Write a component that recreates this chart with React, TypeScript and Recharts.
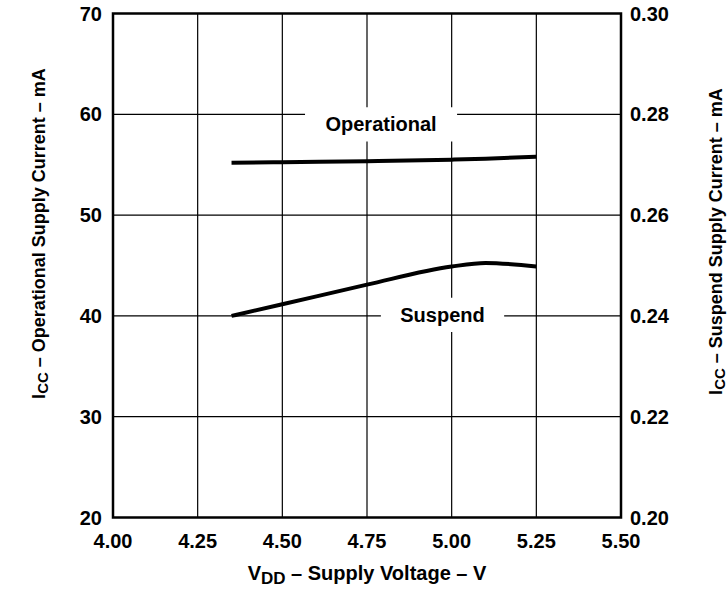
import React from "react";
import {
  LineChart,
  Line,
  XAxis,
  YAxis,
  CartesianGrid,
  ReferenceArea,
} from "recharts";

const voltage = [4.35, 4.5, 4.75, 5.0, 5.1, 5.25];
const operational = [55.2, 55.25, 55.35, 55.5, 55.6, 55.8];
const suspend = [0.24, 0.2423, 0.2462, 0.2498, 0.2505, 0.2498];

const xTicks = [4.0, 4.25, 4.5, 4.75, 5.0, 5.25, 5.5];
const leftTicks = [20, 30, 40, 50, 60, 70];
const rightTicks = [0.2, 0.22, 0.24, 0.26, 0.28, 0.3];

const data = voltage.map((v, i) => ({
  v,
  op: operational[i],
  su: suspend[i],
}));

const FONT = "'Liberation Sans', Arial, Helvetica, sans-serif";
const tickStyle = {
  fill: "#000",
  fontSize: 20,
  fontWeight: 700,
  fontFamily: FONT,
};

const LeftTitle = (props: any) => {
  const vb = props.viewBox || {};
  const cx = vb.x + 44.5;
  const cy = vb.y + vb.height / 2 - 32;
  return (
    <text
      x={cx}
      y={cy}
      transform={`rotate(-90, ${cx}, ${cy})`}
      textAnchor="middle"
      fontFamily={FONT}
      fontWeight={700}
      fontSize={18}
      fill="#000"
    >
      <tspan>I</tspan>
      <tspan fontSize={15} dy={3}>CC</tspan>
      <tspan dy={-3}> – Operational Supply Current – mA</tspan>
    </text>
  );
};

const RightTitle = (props: any) => {
  const vb = props.viewBox || {};
  const cx = vb.x + 100.5;
  const cy = vb.y + vb.height / 2 - 24;
  return (
    <text
      x={cx}
      y={cy}
      transform={`rotate(-90, ${cx}, ${cy})`}
      textAnchor="middle"
      fontFamily={FONT}
      fontWeight={700}
      fontSize={18}
      fill="#000"
    >
      <tspan>I</tspan>
      <tspan fontSize={15} dy={3}>CC</tspan>
      <tspan dy={-3}> – Suspend Supply Current – mA</tspan>
    </text>
  );
};

const XTitle = (props: any) => {
  const vb = props.viewBox || {};
  const cx = vb.x + vb.width / 2;
  const cy = vb.y + 62.5;
  return (
    <text
      x={cx}
      y={cy}
      textAnchor="middle"
      fontFamily={FONT}
      fontWeight={700}
      fontSize={20}
      fill="#000"
    >
      <tspan>V</tspan>
      <tspan fontSize={17} dy={4}>DD</tspan>
      <tspan dy={-4}> – Supply Voltage – V</tspan>
    </text>
  );
};

export default function App() {
  return (
    <div
      style={{
        position: "absolute",
        left: 0,
        top: 0,
        width: 728,
        height: 590,
        background: "#fff",
      }}
    >
      <LineChart
        width={728}
        height={590}
        data={data}
        margin={{ top: 13.5, right: 0, bottom: 0, left: 0 }}
      >
        <CartesianGrid
          yAxisId="left"
          stroke="#000"
          strokeWidth={1.2}
          horizontalValues={[30, 40, 50, 60]}
          verticalValues={[4.25, 4.5, 4.75, 5.0, 5.25]}
        />
        <XAxis
          dataKey="v"
          type="number"
          domain={[4, 5.5]}
          ticks={xTicks}
          tickFormatter={(t: number) => t.toFixed(2)}
          axisLine={false}
          tickLine={false}
          tickSize={0}
          tickMargin={16}
          height={72.5}
          tick={tickStyle}
          interval={0}
          label={<XTitle />}
        />
        <YAxis
          yAxisId="left"
          orientation="left"
          domain={[20, 70]}
          ticks={leftTicks}
          axisLine={false}
          tickLine={false}
          tickSize={0}
          tickMargin={11}
          width={113}
          tick={tickStyle}
          interval={0}
          label={<LeftTitle />}
        />
        <YAxis
          yAxisId="right"
          orientation="right"
          domain={[0.2, 0.3]}
          ticks={rightTicks}
          tickFormatter={(t: number) => t.toFixed(2)}
          axisLine={false}
          tickLine={false}
          tickSize={0}
          tickMargin={9}
          width={107}
          tick={{ ...tickStyle, textAnchor: "start" }}
          interval={0}
          label={<RightTitle />}
        />
        <ReferenceArea
          yAxisId="left"
          x1={4.567}
          x2={5.016}
          y1={57.3}
          y2={60.7}
          fill="#fff"
          fillOpacity={1}
          stroke="none"
          label={{
            value: "Operational",
            position: "center",
            fill: "#000",
            fontSize: 20,
            fontWeight: 700,
            fontFamily: FONT,
          }}
        />
        <ReferenceArea
          yAxisId="left"
          x1={4.791}
          x2={5.155}
          y1={38.4}
          y2={41.8}
          fill="#fff"
          fillOpacity={1}
          stroke="none"
          label={{
            value: "Suspend",
            position: "center",
            fill: "#000",
            fontSize: 20,
            fontWeight: 700,
            fontFamily: FONT,
          }}
        />
        <ReferenceArea
          yAxisId="left"
          x1={4}
          x2={5.5}
          y1={20}
          y2={70}
          fill="none"
          fillOpacity={0}
          stroke="#000"
          strokeWidth={2.5}
        />
        <Line
          yAxisId="left"
          dataKey="op"
          type="monotone"
          stroke="#000"
          strokeWidth={4}
          dot={false}
          isAnimationActive={false}
        />
        <Line
          yAxisId="right"
          dataKey="su"
          type="monotone"
          stroke="#000"
          strokeWidth={4}
          dot={false}
          isAnimationActive={false}
        />
      </LineChart>
    </div>
  );
}
